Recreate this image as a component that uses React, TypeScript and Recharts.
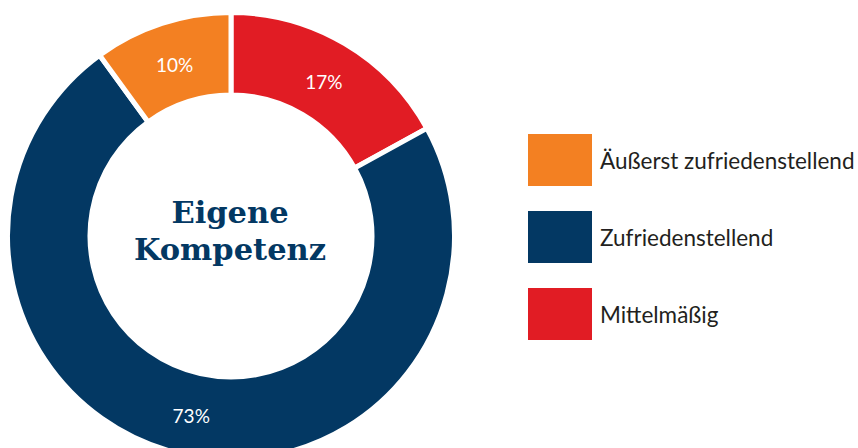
import React from "react";
import { PieChart, Pie, Cell, Legend } from "recharts";

const categories = ["Mittelmäßig", "Zufriedenstellend", "Äußerst zufriedenstellend"];
const values = [17, 73, 10];
const colors = ["#E11C24", "#033863", "#F38022"];
const legendOrder = ["Äußerst zufriedenstellend", "Zufriedenstellend", "Mittelmäßig"];
const centerLines = ["Eigene", "Kompetenz"];

const data = categories.map((name, i) => ({ name, value: values[i], color: colors[i] }));

const RAD = Math.PI / 180;

const renderLabel = (props: any) => {
  const { cx, cy, midAngle, innerRadius, outerRadius, value } = props;
  const r = (innerRadius + outerRadius) / 2;
  const x = cx + r * Math.cos(-midAngle * RAD);
  const y = cy + r * Math.sin(-midAngle * RAD);
  return (
    <text
      x={x}
      y={y + 2}
      fill="#ffffff"
      textAnchor="middle"
      dominantBaseline="central"
      fontFamily="Lato, sans-serif"
      fontSize={19}
    >
      {`${value}%`}
    </text>
  );
};

const LegendContent = () => (
  <div style={{ fontFamily: "Lato, sans-serif" }}>
    {legendOrder.map((name) => {
      const c = colors[categories.indexOf(name)];
      return (
        <div key={name} style={{ display: "flex", alignItems: "center", height: 52, marginBottom: 25 }}>
          <div style={{ width: 64, height: 52, background: c }} />
          <span style={{ marginLeft: 8, fontSize: 22.5, color: "#231f20" }}>{name}</span>
        </div>
      );
    })}
  </div>
);

export default function App() {
  return (
    <div style={{ position: "absolute", left: 0, top: 0 }}>
      <PieChart width={858} height={448} margin={{ top: 0, right: 0, bottom: 0, left: 0 }}>
        <Pie
          data={data}
          dataKey="value"
          nameKey="name"
          cx={231}
          cy={236}
          innerRadius={141}
          outerRadius={223.5}
          startAngle={90}
          endAngle={-270}
          stroke="#ffffff"
          strokeWidth={5}
          label={renderLabel}
          labelLine={false}
          isAnimationActive={false}
        >
          {data.map((d) => (
            <Cell key={d.name} fill={d.color} />
          ))}
        </Pie>
        <text
          x={230}
          y={223}
          textAnchor="middle"
          fill="#033863"
          fontFamily="'DejaVu Serif', serif"
          fontWeight="bold"
          fontSize={30.5}
        >
          {centerLines[0]}
        </text>
        <text
          x={230}
          y={260}
          textAnchor="middle"
          fill="#033863"
          fontFamily="'DejaVu Serif', serif"
          fontWeight="bold"
          fontSize={30.5}
        >
          {centerLines[1]}
        </text>
        <Legend
          content={<LegendContent />}
          wrapperStyle={{ position: "absolute", left: 528, top: 134, width: 330 }}
        />
      </PieChart>
    </div>
  );
}
